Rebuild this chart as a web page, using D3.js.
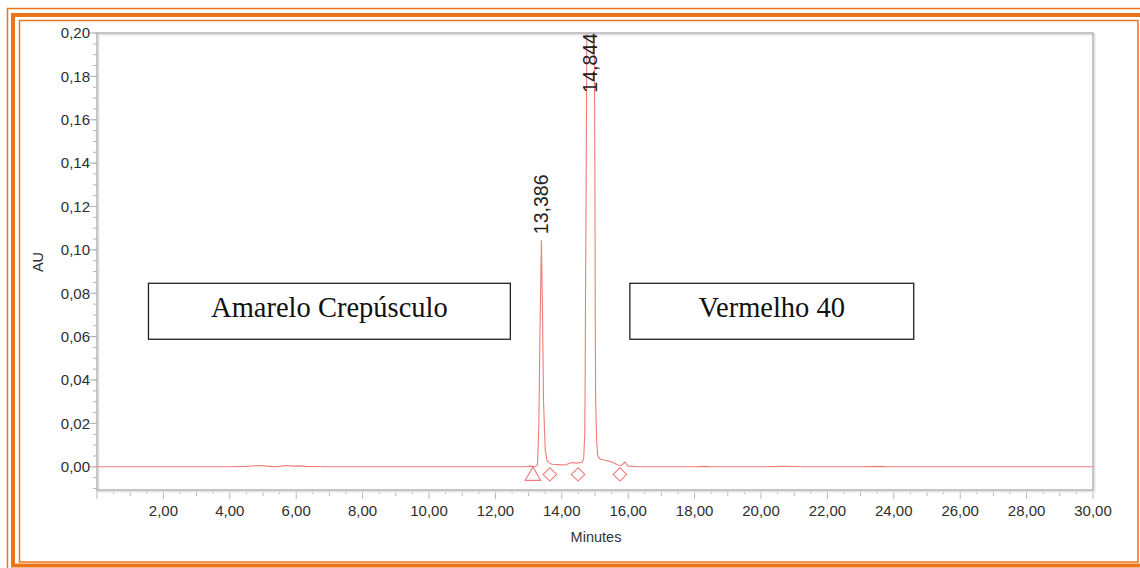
<!DOCTYPE html>
<html lang="pt-br">
<head>
<meta charset="utf-8">
<title>Cromatograma</title>
<script src="https://d3js.org/d3.v7.min.js"></script>
<style>
  body { margin: 0; background: #fff; }
  svg text { font-family: "Liberation Sans", Arial, sans-serif; }
</style>
</head>
<body>
<script>
var tempo = [0, 1, 2, 3, 4, 4.5, 4.7, 4.9, 5.1, 5.3, 5.5, 5.7, 5.9, 6.1, 6.3, 6.5, 7, 8, 9, 10, 11, 12, 12.6, 12.9,
  13.05, 13.2, 13.27, 13.31, 13.34, 13.386, 13.42, 13.45, 13.5, 13.55, 13.62, 13.7, 13.9, 14.1, 14.3, 14.45, 14.55,
  14.62, 14.66, 14.69, 14.70, 14.715, 14.73, 14.745, 14.76, 14.80, 14.844, 14.90, 14.95, 14.985, 15.0, 15.01, 15.02,
  15.05, 15.08, 15.12, 15.2, 15.3, 15.45, 15.6, 15.7, 15.8, 15.9, 16.0, 16.3, 17, 18, 18.3, 18.5, 19, 20, 20.7, 21.0,
  21.3, 22, 23, 23.6, 23.8, 24, 25, 26, 27, 28, 29, 30];
var absorb = [0, 0, 0, 0, 0, 0.0002, 0.0004, 0.0006, 0.0003, 0.0001, 0.0002, 0.0006, 0.0003, 0.0004, 0.0002, 0.0001, 0, 0, 0, 0, 0, 0, 0, 0,
  0.0003, 0.0000, 0.0010, 0.020, 0.060, 0.1045, 0.070, 0.030, 0.008, 0.0030, 0.0018, 0.0012, 0.0010, 0.0008, 0.0020, 0.0017, 0.0020,
  0.0022, 0.0040, 0.0150, 0.030, 0.080, 0.120, 0.170, 0.220, 0.300, 0.320, 0.300, 0.240, 0.180, 0.120, 0.060, 0.030,
  0.012, 0.0055, 0.0040, 0.0034, 0.0030, 0.0025, 0.0015, 0.0008, 0.0006, 0.0022, 0.0003, 0, 0, 0, 0.0002, 0, 0, 0, 0.0002, 0.0001,
  0, 0, 0, 0.0002, 0, 0, 0, 0, 0, 0, 0, 0];

var picos = [13.386, 14.844];
var rotuloAU = [0.1045, 0.1697];   // onde começa o rótulo de cada pico
var marcaTri = [13.13];
var marcaLos = [13.64, 14.49, 15.75];
var caixas = ["Amarelo Crepúsculo", "Vermelho 40"];
var caixaX = [1.55, 16.05];   // minutos (borda esquerda)
var caixaW = [10.9, 8.55];    // minutos

var W = 1140, H = 568;
var margem = { left: 97, top: 33, right: 1093, bottom: 490 };

var svg = d3.select("body").append("svg")
  .attr("width", W).attr("height", H);

// molduras laranja
var laranja = "#ee7418";
svg.append("rect").attr("x", 7.5).attr("y", 8.5).attr("width", 1160).attr("height", 580)
  .attr("fill", "none").attr("stroke", laranja).attr("stroke-width", 1.5);
svg.append("rect").attr("x", 13).attr("y", 15).attr("width", 1150).attr("height", 550.5)
  .attr("fill", "none").attr("stroke", laranja).attr("stroke-width", 4);
svg.append("rect").attr("x", 19.5).attr("y", 20.5).attr("width", 1118.5).attr("height", 541.5)
  .attr("fill", "none").attr("stroke", laranja).attr("stroke-width", 1.5);

var x = d3.scaleLinear().domain([0, 30]).range([margem.left, margem.right]);
var y = d3.scaleLinear().domain([-0.0107, 0.20]).range([margem.bottom, margem.top]);

var cinza = "#b4b4b4";
var fmt = function (d) { return d3.format(".2f")(d).replace(".", ","); };

// eixo y: ticks menores e maiores
var gy = svg.append("g");
gy.selectAll("line.min").data(d3.range(-10, 201, 5).map(function (d) { return d / 1000; }))
  .enter().append("line")
  .attr("x1", margem.left - 4).attr("x2", margem.left)
  .attr("y1", function (d) { return y(d); }).attr("y2", function (d) { return y(d); })
  .attr("stroke", cinza);
var yMaj = d3.range(0, 21, 2).map(function (d) { return d / 100; });
gy.selectAll("line.maj").data(yMaj).enter().append("line")
  .attr("x1", margem.left - 8).attr("x2", margem.left)
  .attr("y1", function (d) { return y(d); }).attr("y2", function (d) { return y(d); })
  .attr("stroke", cinza);
gy.selectAll("text").data(yMaj).enter().append("text")
  .attr("x", margem.left - 7).attr("y", function (d) { return y(d); })
  .attr("dy", "0.35em").attr("text-anchor", "end")
  .attr("font-size", 15).attr("fill", "#2e2e2e")
  .text(fmt);

// eixo x
var gx = svg.append("g");
gx.selectAll("line.min").data(d3.range(0, 61).map(function (d) { return d / 2; }))
  .enter().append("line")
  .attr("x1", function (d) { return x(d); }).attr("x2", function (d) { return x(d); })
  .attr("y1", margem.bottom).attr("y2", function (d) { return margem.bottom + (d % 2 === 0 ? 9 : (d % 1 === 0 ? 6 : 4)); })
  .attr("stroke", cinza);
gx.selectAll("text").data(d3.range(2, 31, 2)).enter().append("text")
  .attr("x", function (d) { return x(d); }).attr("y", margem.bottom + 26)
  .attr("text-anchor", "middle").attr("font-size", 15).attr("fill", "#2e2e2e")
  .text(fmt);

svg.append("text").attr("x", 596).attr("y", 542).attr("text-anchor", "middle")
  .attr("font-size", 14.5).attr("fill", "#333").text("Minutes");
svg.append("text").attr("transform", "translate(43,262) rotate(-90)")
  .attr("text-anchor", "middle").attr("font-size", 14.5).attr("fill", "#333").text("AU");

// moldura da área do gráfico
svg.append("rect").attr("x", margem.left + 1.5).attr("y", margem.top + 1.5)
  .attr("width", margem.right - margem.left).attr("height", margem.bottom - margem.top)
  .attr("fill", "none").attr("stroke", "#e4e4e4").attr("stroke-width", 2);
svg.append("rect").attr("x", margem.left).attr("y", margem.top)
  .attr("width", margem.right - margem.left).attr("height", margem.bottom - margem.top)
  .attr("fill", "none").attr("stroke", cinza).attr("stroke-width", 1.5);

svg.append("clipPath").attr("id", "area").append("rect")
  .attr("x", margem.left).attr("y", margem.top + 1)
  .attr("width", margem.right - margem.left).attr("height", margem.bottom - margem.top - 1);

var vermelho = "#f07c7c";
var linha = d3.line().x(function (d, i) { return x(tempo[i]); }).y(function (d) { return y(d); });
svg.append("path").datum(absorb)
  .attr("clip-path", "url(#area)")
  .attr("d", linha).attr("fill", "none")
  .attr("stroke", vermelho).attr("stroke-width", 1.1);

// marcadores de início/fim de pico
svg.selectAll("path.tri").data(marcaTri).enter().append("path")
  .attr("transform", function (d) { return "translate(" + x(d) + "," + (y(-0.0035) + 1.5) + ")"; })
  .attr("d", d3.symbol().type(d3.symbolTriangle).size(105))
  .attr("fill", "none").attr("stroke", vermelho).attr("stroke-width", 1.1);
svg.selectAll("path.los").data(marcaLos).enter().append("path")
  .attr("transform", function (d) { return "translate(" + x(d) + "," + y(-0.0035) + ") rotate(45)"; })
  .attr("d", d3.symbol().type(d3.symbolSquare).size(90))
  .attr("fill", "none").attr("stroke", vermelho).attr("stroke-width", 1.1);

// rótulos dos picos
svg.selectAll("text.pico").data(picos).enter().append("text")
  .attr("transform", function (d, i) { return "translate(" + (x(d) + 7) + "," + (y(rotuloAU[i]) - 6) + ") rotate(-90)"; })
  .attr("text-anchor", "start").attr("font-size", 19.5).attr("fill", "#222")
  .text(function (d) { return d3.format(".3f")(d).replace(".", ","); });

// caixas de texto
var gc = svg.selectAll("g.caixa").data(caixas).enter().append("g");
gc.append("rect")
  .attr("x", function (d, i) { return x(caixaX[i]); }).attr("y", y(0.0846))
  .attr("width", function (d, i) { return x(caixaW[i]) - x(0); }).attr("height", y(0.0588) - y(0.0846))
  .attr("fill", "#fff").attr("stroke", "#222").attr("stroke-width", 1.3);
gc.append("text")
  .attr("x", function (d, i) { return x(caixaX[i] + caixaW[i] / 2); }).attr("y", y(0.0691))
  .attr("text-anchor", "middle").attr("font-size", 28.5)
  .style("font-family", "'Liberation Serif', 'Times New Roman', serif").attr("fill", "#111")
  .text(function (d) { return d; });
</script>
</body>
</html>
